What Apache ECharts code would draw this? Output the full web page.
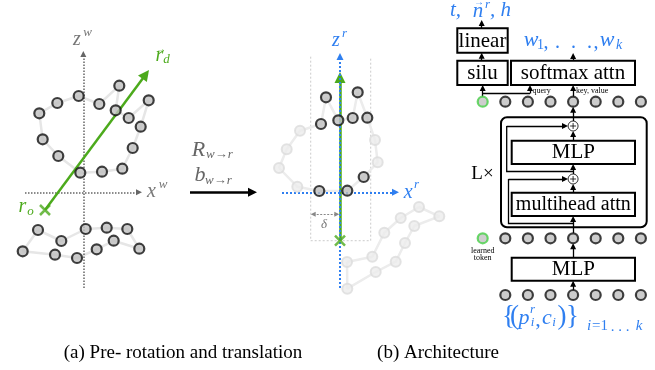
<!DOCTYPE html>
<html><head><meta charset="utf-8">
<script src="https://cdn.jsdelivr.net/npm/echarts@6/dist/echarts.min.js"></script>
<style>html,body{margin:0;padding:0;background:#fff}#c{width:655px;height:370px}</style>
</head><body><div id="c"></div>
<script>
// ---- data (diagram coordinates in a 655 x 370 value space) ----
const leftUpper = [[39.3,113.3],[57.3,103],[78.7,96],[99.3,104],[119.3,85.7],[115.7,110.3],[128.7,118],[148.7,100.3],[140.7,126.7],[132.7,148],[122.3,168.7],[102,171.7],[80.3,172.7],[58.3,156],[42.7,139.3]];
const leftLower = [[38,230],[61.3,241],[85.7,229],[106.7,227.7],[127.3,229],[139.3,248.7],[113.7,240.7],[96.7,249.3],[77,258],[55,254.7],[22.7,251.3]];
const rightUpper = [[279,168],[286.7,149.3],[300,130.7],[321,124],[326,97.3],[338.3,120.3],[352.7,118],[357.7,92.3],[367.3,117.7],[375,140],[377.7,162.3],[363.7,177],[347.3,190.7],[319.3,191],[297.3,186.7]];
const rightLower = [[347,262],[372.3,256.7],[384.3,232.7],[400.7,218],[419,207],[439.3,216.3],[414.3,226],[405,243],[395.7,261.7],[375.7,272],[347.3,288.7]];
const cylinder = {x0:310.7, x1:370.7, y0:56.7, y1:240.7};
const tokenXs = [482.7,505.3,527.9,550.5,573.1,595.7,618.3,640.9];
const tokenRowY = [101.7, 238.3, 295];
const origins = [[45,210],[340,240.7]];
const rayTips = [[149,70],[340,72]];
const plusY = [126, 179];
const boxes = [
  {t:'linear', x0:457.3, y0:28.3, x1:507.7, y1:52.7},
  {t:'silu', x0:457.3, y0:60.7, x1:507.7, y1:85},
  {t:'softmax attn', x0:511, y0:60.7, x1:635, y1:85},
  {t:'MLP', x0:511.7, y0:140.7, x1:635, y1:164},
  {t:'multihead attn', x0:511.7, y0:192.7, x1:635, y1:216, fs:20},
  {t:'MLP', x0:511.7, y0:257.7, x1:635, y1:280.7}
];
const blockBox = {x0:501, y0:117.3, x1:646.7, y1:227.3};
const archArrows = [
  [[481.7,28.3],[481.7,20]],
  [[481.7,60.7],[481.7,52.7]],
  [[573.1,60.7],[573.1,53]],
  [[482.7,96.7],[482.7,85]],
  [[573.1,96.7],[573.1,85]],
  [[482.7,93.5],[530,93.5],[530,85]],
  [[573.1,121],[573.1,106.7]],
  [[573.1,140.7],[573.1,131]],
  [[573.1,174],[573.1,164]],
  [[573.1,192.7],[573.1,184]],
  [[573.1,233.3],[573.1,216]],
  [[573.1,257.7],[573.1,243.3]],
  [[573.1,290],[573.1,280.7]],
  [[573.1,171.5],[506.7,171.5],[506.7,126],[568,126]],
  [[573.1,223.5],[508.5,223.5],[508.5,179],[568,179]]
];

const GREEN = '#4caa1c', BLUE = '#2f7ff0', GRAY = '#777';
const F = '"Liberation Serif","Times New Roman",serif';

function closed(a){ return a.concat([a[0]]); }
function inCyl(p){ return p[0]>=cylinder.x0 && p[0]<=cylinder.x1 && p[1]>=cylinder.y0 && p[1]<=cylinder.y1; }
function pull(from, to, head){
  const dx=to[0]-from[0], dy=to[1]-from[1], L=Math.hypot(dx,dy);
  return [to[0]-dx/L*head/2, to[1]-dy/L*head/2];
}
function arrowSeries(list, color, width, head, type, z, both){
  const bodies=[], heads=[];
  list.forEach(p=>{
    const n=p.length;
    if(n>2) bodies.push({coords:p.slice(0,n-1)});
    let a=p[n-2], b=pull(p[n-2],p[n-1],head);
    if(both) a=pull(p[n-1],p[n-2],head);
    heads.push({coords:[a,b]});
  });
  const ls={color, width, type:type||'solid', opacity:1};
  const out=[{type:'lines', coordinateSystem:'cartesian2d', z:z||5, silent:true,
    symbol: both?['triangle','triangle']:['none','triangle'], symbolSize: head, lineStyle:ls, data:heads}];
  if(bodies.length) out.push({type:'lines', coordinateSystem:'cartesian2d', polyline:true, z:z||5, silent:true,
    symbol:'none', lineStyle:ls, data:bodies});
  return out;
}
const darkPt = {color:'#bfbfbf', borderColor:'#111', borderWidth:2.2};
const lightPt = {color:'#ececec', borderColor:'#dcdcdc', borderWidth:2};
function loopLine(pts, color){
  return {type:'line', data:closed(pts), symbol:'none', z:1, silent:true, lineStyle:{color, width:2.5}};
}
const tokens = [];
tokenRowY.forEach((y,r)=>tokenXs.forEach((x,i)=>{ if(r===2 && i===0) return;
  tokens.push({value:[x,y], itemStyle: (i===0)?{color:'#c2c2c2',borderColor:'#46d046',borderWidth:2.2}:darkPt}); }));

const chart = echarts.init(document.getElementById('c'), null, {renderer:'canvas'});
chart.setOption({
  animation:false,
  grid:{left:0,right:0,top:0,bottom:0},
  xAxis:{type:'value', min:0, max:655, show:false},
  yAxis:{type:'value', min:0, max:370, inverse:true, show:false},
  series:[
    loopLine(leftUpper,'#e6e6e6'), loopLine(leftLower,'#e6e6e6'),
    loopLine(rightUpper,'#ececec'), loopLine(rightLower,'#ececec'),
    ...arrowSeries([[[83.3,288],[83.3,51]],[[25,192.3],[142,192.3]]], '#666', 1.5, 6, [1.5,1.5], 2),
    ...arrowSeries([[origins[0], rayTips[0]], [origins[1], rayTips[1]]], GREEN, 2.5, 11, 'solid', 3),
    ...arrowSeries([[[340,288],[340,53]],[[282,192.3],[399,192.3]]], BLUE, 2, 7, [2,2], 4),
    ...arrowSeries([[[190,192.3],[257,192.3]]], '#000', 2.5, 9, 'solid', 3),
    {type:'lines', coordinateSystem:'cartesian2d', polyline:true, z:1, silent:true, symbol:'none',
      lineStyle:{color:'#999', width:1, type:[2,2]},
      data:[{coords:[[cylinder.x0,cylinder.y0],[cylinder.x0,cylinder.y1],[cylinder.x1,cylinder.y1],[cylinder.x1,cylinder.y0]]}]},
    ...arrowSeries([[[cylinder.x0,214.3],[339.3,214.3]]], '#888', 1, 5, [2,1.5], 2, true),
    ...arrowSeries(archArrows, '#000', 1.3, 6, 'solid', 5),
    {type:'scatter', symbolSize:10, z:6, silent:true, itemStyle:darkPt, data:leftUpper.concat(leftLower)},
    {type:'scatter', symbolSize:10, z:6, silent:true,
      data:rightUpper.concat(rightLower).map(p=>({value:p, itemStyle: inCyl(p)?darkPt:lightPt}))},
    {type:'scatter', symbolSize:10, z:6, silent:true, data:tokens},
    {type:'scatter', symbol:'path://M0,0L10,10M10,0L0,10', symbolSize:10, z:7, silent:true,
      itemStyle:{color:'none', borderColor:GREEN, borderWidth:2.5}, data:origins},
    {type:'scatter', symbol:'circle', symbolSize:10, z:7, silent:true,
      itemStyle:{color:'#fff', borderColor:'#000', borderWidth:1}, data:plusY.map(y=>[573.1,y])},
    {type:'scatter', symbol:'path://M0,5L10,5M5,0L5,10', symbolSize:6, z:8, silent:true,
      itemStyle:{color:'none', borderColor:'#000', borderWidth:1}, data:plusY.map(y=>[573.1,y])}
  ]
});

function P(x,y){ return chart.convertToPixel({gridIndex:0},[x,y]); }
function T(x,y,text,size,o){
  o=o||{}; const p=P(x,y);
  return {type:'text', x:p[0], y:p[1], z:100, silent:true,
    style:{text, font:(o.it?'italic ':'')+size+'px '+F, fill:o.c||'#000', align:o.a||'center', verticalAlign:'middle'}};
}
function R(b, r){
  const a=P(b.x0,b.y0), c=P(b.x1,b.y1);
  return {type:'rect', z:50, silent:true, shape:{x:a[0],y:a[1],width:c[0]-a[0],height:c[1]-a[1],r:r||0},
    style:{fill:'none', stroke:'#000', lineWidth:2}};
}
const g = [];
g.push(T(77,39.5,'z',20,{it:1,c:GRAY}), T(87.5,33,'w',13,{it:1,c:GRAY}));
g.push(T(151.5,192,'x',20,{it:1,c:GRAY}), T(163,185,'w',13,{it:1,c:GRAY}));
g.push(T(22.5,207,'r',20,{it:1,c:GREEN}), T(30.5,212,'o',13,{it:1,c:GREEN}));
g.push(T(159.5,56,'r',20,{it:1,c:GREEN}), T(161,49.5,'\u2192',10,{c:GREEN}), T(166.5,60,'d',13,{it:1,c:GREEN}));
g.push(T(198.5,150,'R',22,{it:1,c:'#666'}), T(206,155,'w\u2192r',13,{it:1,c:'#666',a:'left'}));
g.push(T(200,175,'b',22,{it:1,c:'#666'}), T(205,180.5,'w\u2192r',13,{it:1,c:'#666',a:'left'}));
g.push(T(336,40.5,'z',20,{it:1,c:BLUE}), T(344.5,34,'r',13,{it:1,c:BLUE}));
g.push(T(408.3,192.5,'x',20,{it:1,c:BLUE}), T(416.5,185,'r',13,{it:1,c:BLUE}));
g.push(T(324,224.5,'\u03b4',13,{it:1,c:GRAY}));
boxes.forEach(b=>{ g.push(R(b)); g.push(T((b.x0+b.x1)/2,(b.y0+b.y1)/2+0.5,b.t,b.fs||21)); });
g.push(R(blockBox,6));
g.push(T(482.5,174,'L\u00d7',19));
g.push(T(482.7,250.5,'learned',8), T(482.7,258,'token',8));
g.push(T(532.5,90.5,'query',8,{a:'left'}), T(576,90.5,'key, value',8,{a:'left'}));
g.push(T(450,10,'t,',21,{it:1,c:BLUE,a:'left'}), T(478,11,'n',21,{it:1,c:BLUE}), T(479,2.5,'\u2192',10,{c:BLUE}),
       T(487.5,4.5,'r',13,{it:1,c:BLUE}), T(490,10,', h',21,{it:1,c:BLUE,a:'left'}));
g.push(T(531,40.5,'w',22,{it:1,c:BLUE}), T(540.5,45,'1',14,{c:BLUE}), T(546,43,',',20,{c:BLUE}),
       T(557.5,43,'.',20,{c:BLUE}), T(573.5,43,'.',20,{c:BLUE}), T(589.5,43,'.',20,{c:BLUE}), T(596,43,',',20,{c:BLUE}),
       T(607,40.5,'w',22,{it:1,c:BLUE}), T(619,45,'k',14,{it:1,c:BLUE}));
g.push(T(502,316.5,'{',27,{c:BLUE,a:'left'}), T(510,316.5,'(',27,{c:BLUE,a:'left'}),
       T(524,318,'p',22,{it:1,c:BLUE}), T(532.5,309.5,'r',13,{it:1,c:BLUE}),
       T(532.5,323,'i',13,{it:1,c:BLUE}), T(538,320,',',22,{c:BLUE}), T(547,318,'c',22,{it:1,c:BLUE}),
       T(554,323,'i',13,{it:1,c:BLUE}), T(557.5,316.5,')',27,{c:BLUE,a:'left'}), T(566,316.5,'}',27,{c:BLUE,a:'left'}),
       T(587,326,'i',15,{it:1,c:BLUE,a:'left'}), T(592,326,'=1',15,{c:BLUE,a:'left'}),
       T(620,327,'. . .',15,{c:BLUE}), T(639,326,'k',15,{it:1,c:BLUE}));
g.push(T(183,353,'(a) Pre- rotation and translation',19), T(438,353,'(b) Architecture',19));
chart.setOption({graphic:{elements:g}});
</script></body></html>
